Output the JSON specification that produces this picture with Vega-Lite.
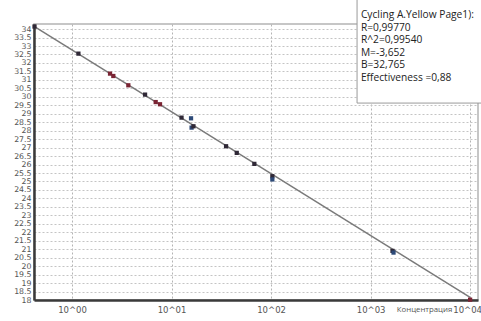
{
  "$schema": "https://vega.github.io/schema/vega-lite/v6.json",
  "autosize": {"type": "none"},
  "padding": {"left": 34, "top": 24, "right": 3, "bottom": 21},
  "width": 444,
  "height": 276,
  "background": "white",
  "config": {
    "view": {"stroke": "#b4b4b4", "strokeWidth": 1.5},
    "axis": {
      "labelFont": "DejaVu Sans",
      "labelColor": "#555555",
      "gridColor": "#c4c4c4",
      "gridDash": [2, 2],
      "gridWidth": 1,
      "ticks": false,
      "domainColor": "#3a3a3a",
      "domainWidth": 2.5
    }
  },
  "datasets": {
    "samples": [
      {"conc": 0.42, "ct": 34.15, "kind": "standard"},
      {"conc": 1.16, "ct": 32.55, "kind": "standard"},
      {"conc": 2.41, "ct": 31.37, "kind": "replicate"},
      {"conc": 2.6, "ct": 31.23, "kind": "replicate"},
      {"conc": 3.68, "ct": 30.68, "kind": "replicate"},
      {"conc": 5.42, "ct": 30.13, "kind": "standard"},
      {"conc": 6.93, "ct": 29.69, "kind": "replicate"},
      {"conc": 7.66, "ct": 29.56, "kind": "replicate"},
      {"conc": 12.6, "ct": 28.77, "kind": "standard"},
      {"conc": 15.7, "ct": 28.73, "kind": "unknown"},
      {"conc": 15.9, "ct": 28.18, "kind": "unknown"},
      {"conc": 16.6, "ct": 28.26, "kind": "standard"},
      {"conc": 35.3, "ct": 27.08, "kind": "standard"},
      {"conc": 45.2, "ct": 26.69, "kind": "standard"},
      {"conc": 67.9, "ct": 26.04, "kind": "standard"},
      {"conc": 103, "ct": 25.31, "kind": "standard"},
      {"conc": 103, "ct": 25.12, "kind": "unknown"},
      {"conc": 1660, "ct": 20.9, "kind": "standard"},
      {"conc": 1700, "ct": 20.8, "kind": "unknown"},
      {"conc": 10000, "ct": 18.02, "kind": "replicate"}
    ],
    "fit": [
      {"conc": 0.42, "ct": 34.141},
      {"conc": 10000, "ct": 18.157}
    ],
    "stats": [
      {"text": "Cycling A.Yellow Page1):\nR=0,99770\nR^2=0,99540\nM=-3,652\nB=32,765\nEffectiveness =0,88"}
    ]
  },
  "resolve": {"scale": {"x": "shared", "y": "shared"}},
  "layer": [
    {
      "data": {"name": "fit"},
      "mark": {"type": "line", "color": "#7a7a7a", "strokeWidth": 1.5},
      "encoding": {
        "x": {
          "field": "conc",
          "type": "quantitative",
          "scale": {"type": "log", "domain": [0.415, 12000], "nice": false, "zero": false},
          "axis": {
            "values": [1, 10, 100, 1000, 10000],
            "labelExpr": "'10^0' + format(log(datum.value) / LN10, '.0f')",
            "labelFontSize": 8.5,
            "labelPadding": 5,
            "labelOffset": {"condition": {"test": "datum.value >= 10000", "value": -3}, "value": 0},
            "gridColor": "#b4b4b4",
            "title": "Концентрация",
            "titleFont": "Open Sans",
            "titleFontSize": 7.8,
            "titleFontWeight": "normal",
            "titleColor": "#555555",
            "titleX": 390,
            "titleY": 11.5,
            "titleAlign": "center",
            "titleBaseline": "alphabetic"
          }
        },
        "y": {
          "field": "ct",
          "type": "quantitative",
          "scale": {"domain": [18, 34.3], "nice": false, "zero": false},
          "axis": {
            "values": [18, 18.5, 19, 19.5, 20, 20.5, 21, 21.5, 22, 22.5, 23, 23.5, 24, 24.5, 25, 25.5, 26, 26.5, 27, 27.5, 28, 28.5, 29, 29.5, 30, 30.5, 31, 31.5, 32, 32.5, 33, 33.5, 34],
            "format": "~g",
            "labelFontSize": 7.8,
            "labelPadding": 3,
            "title": null
          }
        }
      }
    },
    {
      "data": {"name": "samples"},
      "mark": {"type": "square", "size": 18, "opacity": 1, "filled": true},
      "encoding": {
        "x": {
          "field": "conc",
          "type": "quantitative",
          "axis": {
            "values": [1, 10, 100, 1000, 10000],
            "labelExpr": "'10^0' + format(log(datum.value) / LN10, '.0f')",
            "labelFontSize": 8.5,
            "labelPadding": 5,
            "labelOffset": {"condition": {"test": "datum.value >= 10000", "value": -3}, "value": 0},
            "gridColor": "#b4b4b4",
            "title": "Концентрация",
            "titleFont": "Open Sans",
            "titleFontSize": 7.8,
            "titleFontWeight": "normal",
            "titleColor": "#555555",
            "titleX": 390,
            "titleY": 11.5,
            "titleAlign": "center",
            "titleBaseline": "alphabetic"
          }
        },
        "y": {
          "field": "ct",
          "type": "quantitative",
          "axis": {
            "values": [18, 18.5, 19, 19.5, 20, 20.5, 21, 21.5, 22, 22.5, 23, 23.5, 24, 24.5, 25, 25.5, 26, 26.5, 27, 27.5, 28, 28.5, 29, 29.5, 30, 30.5, 31, 31.5, 32, 32.5, 33, 33.5, 34],
            "format": "~g",
            "labelFontSize": 7.8,
            "labelPadding": 3,
            "title": null
          }
        },
        "color": {
          "field": "kind",
          "type": "nominal",
          "scale": {"domain": ["standard", "replicate", "unknown"], "range": ["#2f2836", "#7a2433", "#2d4a78"]},
          "legend": null
        }
      }
    },
    {
      "data": {"name": "stats"},
      "mark": {"type": "rect", "fill": "white", "stroke": "#9a9a9a", "strokeWidth": 1, "clip": false},
      "encoding": {
        "x": {
          "datum": 731,
          "type": "quantitative",
          "axis": {
            "values": [1, 10, 100, 1000, 10000],
            "labelExpr": "'10^0' + format(log(datum.value) / LN10, '.0f')",
            "labelFontSize": 8.5,
            "labelPadding": 5,
            "labelOffset": {"condition": {"test": "datum.value >= 10000", "value": -3}, "value": 0},
            "gridColor": "#b4b4b4",
            "title": "Концентрация",
            "titleFont": "Open Sans",
            "titleFontSize": 7.8,
            "titleFontWeight": "normal",
            "titleColor": "#555555",
            "titleX": 390,
            "titleY": 11.5,
            "titleAlign": "center",
            "titleBaseline": "alphabetic"
          }
        },
        "x2": {"datum": 14000},
        "y": {
          "datum": 35.75,
          "type": "quantitative",
          "axis": {
            "values": [18, 18.5, 19, 19.5, 20, 20.5, 21, 21.5, 22, 22.5, 23, 23.5, 24, 24.5, 25, 25.5, 26, 26.5, 27, 27.5, 28, 28.5, 29, 29.5, 30, 30.5, 31, 31.5, 32, 32.5, 33, 33.5, 34],
            "format": "~g",
            "labelFontSize": 7.8,
            "labelPadding": 3,
            "title": null
          }
        },
        "y2": {"datum": 29.63}
      }
    },
    {
      "data": {"name": "stats"},
      "mark": {
        "type": "text",
        "align": "left",
        "baseline": "top",
        "lineBreak": "\n",
        "lineHeight": 12.5,
        "font": "Open Sans",
        "fontSize": 10.2,
        "color": "#222222",
        "clip": false
      },
      "encoding": {
        "x": {
          "datum": 800,
          "type": "quantitative",
          "axis": {
            "values": [1, 10, 100, 1000, 10000],
            "labelExpr": "'10^0' + format(log(datum.value) / LN10, '.0f')",
            "labelFontSize": 8.5,
            "labelPadding": 5,
            "labelOffset": {"condition": {"test": "datum.value >= 10000", "value": -3}, "value": 0},
            "gridColor": "#b4b4b4",
            "title": "Концентрация",
            "titleFont": "Open Sans",
            "titleFontSize": 7.8,
            "titleFontWeight": "normal",
            "titleColor": "#555555",
            "titleX": 390,
            "titleY": 11.5,
            "titleAlign": "center",
            "titleBaseline": "alphabetic"
          }
        },
        "y": {
          "datum": 35.1,
          "type": "quantitative",
          "axis": {
            "values": [18, 18.5, 19, 19.5, 20, 20.5, 21, 21.5, 22, 22.5, 23, 23.5, 24, 24.5, 25, 25.5, 26, 26.5, 27, 27.5, 28, 28.5, 29, 29.5, 30, 30.5, 31, 31.5, 32, 32.5, 33, 33.5, 34],
            "format": "~g",
            "labelFontSize": 7.8,
            "labelPadding": 3,
            "title": null
          }
        },
        "text": {"field": "text", "type": "nominal"}
      }
    }
  ]
}
